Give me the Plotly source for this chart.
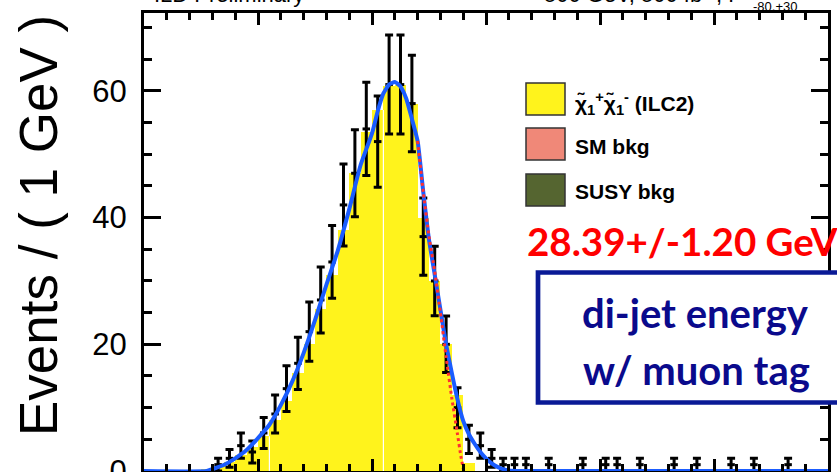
import plotly.graph_objects as go

# ---------------- data ----------------
bin_centers = [i + 0.5 for i in range(60)]          # GeV, 1 GeV bins

mc_signal = [0, 0, 0, 0, 0, 0.3, 0.8, 1.5, 2.5, 3.8,
             5.5, 8, 11, 15.5, 20, 25.5, 31, 38, 47, 53.5,
             57, 60.7, 61, 58, 40, 30, 20, 12, 1.3, 0,
             0, 0, 0, 0, 0, 0, 0, 0, 0, 0,
             0, 0, 0, 0, 0, 0, 0, 0, 0, 0,
             0, 0, 0, 0, 0, 0, 0, 0, 0, 0]
sm_bkg = [0] * 60
susy_bkg = [0] * 60

data_counts = [0, 0, 0, 0, 0, 0, 1, 2, 4, 3,
               6, 9, 13, 17, 22, 27, 33, 42, 47, 54,
               52, 61, 61, 58, 37, 30, 20, 10, 5, 4,
               2, 1, 1, 1, 0, 1, 0, 0, 1, 0,
               1, 1, 0, 1, 0, 0, 1, 0, 1, 0,
               0, 1, 0, 1, 0, 0, 1, 0, 0, 0]
data_err = [0, 0, 0, 0, 0, 0, 1, 1.41, 2, 1.73,
            2.45, 3, 3.61, 4.12, 4.69, 5.2, 5.74, 6.48, 6.86, 7.35,
            7.21, 7.81, 7.81, 7.62, 6.08, 5.48, 4.47, 3.16, 2.24, 2,
            1.41, 1, 1, 1, 0, 1, 0, 0, 1, 0,
            1, 1, 0, 1, 0, 0, 1, 0, 1, 0,
            0, 1, 0, 1, 0, 0, 1, 0, 0, 0]

fit_x = [0, 5.5, 6, 7, 8, 9, 10, 11, 12, 13, 14, 15, 16, 17, 18, 19, 20, 20.5,
         21, 21.5, 22, 22.5, 23, 23.5, 24, 24.5, 25, 25.5, 26, 26.5, 27, 27.5,
         28, 28.5, 29, 29.5, 30, 30.5, 31, 31.5, 32, 33, 60]
fit_y = [0, 0, 0.3, 0.95, 2.0, 3.3, 5.2, 7.3, 10.4, 14.1, 18.6, 23.8, 29.4, 34.8,
         41.3, 48.3, 53.3, 56.8, 59.6, 61.0, 61.4, 60.7, 58.8, 55.6, 52.1, 44.0,
         36.5, 31.0, 25.5, 20.0, 15.5, 11.3, 7.9, 5.8, 4.3, 3.0, 2.0, 1.2, 0.65,
         0.3, 0.1, 0, 0]

edge_x = [24, 24.5, 25, 25.5, 26, 26.5, 27, 27.5, 27.8, 28.05]
edge_y = [52.1, 44, 37, 31.5, 25, 18, 11.5, 5.8, 2.3, 0]

seam_edges = [11, 21]

x_range = [0, 60]
y_range = [0, 72.3]
y_ticks = [0, 20, 40, 60]

# ---------------- figure ----------------
W, H = 837, 472
ML, MR, MT, MB = 144, 9, 13, 1
PW, PH = W - ML - MR, H - MT - MB


def px(x):
    return (x - ML) / PW


def py(y):
    return (H - MB - y) / PH


fig = go.Figure()

fig.add_trace(go.Bar(x=bin_centers, y=mc_signal, width=1.0,
                     marker=dict(color="#FFF31C", line=dict(width=0))))
fig.add_trace(go.Bar(x=bin_centers, y=sm_bkg, width=1.0,
                     marker=dict(color="#F08878", line=dict(width=0))))
fig.add_trace(go.Bar(x=bin_centers, y=susy_bkg, width=1.0,
                     marker=dict(color="#556530", line=dict(width=0))))

# thin white seams inside the filled histogram
for e in seam_edges:
    top = min(mc_signal[e - 1], mc_signal[e])
    fig.add_trace(go.Scatter(x=[e, e], y=[0, top], mode="lines",
                             line=dict(color="white", width=1.2),
                             hoverinfo="skip"))

# pseudo-data points with error bars
dx = [c for c, v in zip(bin_centers, data_counts) if v > 0]
dy = [v for v in data_counts if v > 0]
de = [e for e, v in zip(data_err, data_counts) if v > 0]
fig.add_trace(go.Scatter(
    x=dx, y=dy, mode="markers",
    marker=dict(size=1, color="black"),
    error_y=dict(type="data", array=de, visible=True, color="black",
                 thickness=3, width=4),
    error_x=dict(type="constant", value=0.33, visible=True, color="black",
                 thickness=3, width=0),
))

fig.add_trace(go.Scatter(x=fit_x, y=fit_y, mode="lines",
                         line=dict(color="#1A5CFF", width=4, shape="spline",
                                   smoothing=0.5)))
fig.add_trace(go.Scatter(x=edge_x, y=edge_y, mode="lines",
                         line=dict(color="#FF3030", width=3, dash="dot",
                                   shape="spline", smoothing=0.5)))

# ---------------- decorations ----------------
shapes = []
annotations = []

# legend boxes
leg_items = [
    ("#FFF31C", 83, 115, 103,
     "χ̃<sub>1</sub><sup>+</sup>χ̃<sub>1</sub><sup>-</sup> (ILC2)"),
    ("#F08878", 128, 160, 146.5, "SM bkg"),
    ("#556530", 174, 206, 191.5, "SUSY bkg"),
]
for col, t, b, cy, label in leg_items:
    shapes.append(dict(type="rect", xref="paper", yref="paper",
                       x0=px(526), x1=px(565), y0=py(b), y1=py(t),
                       fillcolor=col, line=dict(color="#333333", width=1.5),
                       layer="above"))
    annotations.append(dict(x=px(573), y=py(cy), xref="paper", yref="paper",
                            xanchor="left", yanchor="middle", showarrow=False,
                            text="<b>" + label + "</b>",
                            font=dict(family="Liberation Sans", size=21,
                                      color="black")))

# fit result text
annotations.append(dict(x=px(525), y=py(241), xref="paper", yref="paper",
                        xanchor="left", yanchor="middle", showarrow=False,
                        text="<b>28.39+/-1.20 GeV</b>",
                        font=dict(family="Lato", size=38.5, color="#FF0000")))

# framed label
shapes.append(dict(type="rect", xref="paper", yref="paper",
                   x0=px(538), x1=px(860), y0=py(402.5), y1=py(272.5),
                   fillcolor="white", line=dict(color="#0A1A96", width=4.7),
                   layer="above"))
annotations.append(dict(x=px(695), y=py(313), xref="paper", yref="paper",
                        xanchor="center", yanchor="middle", showarrow=False,
                        text="<b>di-jet energy</b>",
                        font=dict(family="Lato", size=40, color="#0A0A8C")))
annotations.append(dict(x=px(696), y=py(370), xref="paper", yref="paper",
                        xanchor="center", yanchor="middle", showarrow=False,
                        text="<b>w/ muon tag</b>",
                        font=dict(family="Lato", size=40, color="#0A0A8C")))

# header texts (mostly cut by the top of the picture)
annotations.append(dict(x=px(152), y=py(9), xref="paper", yref="paper",
                        xanchor="left", yanchor="bottom", showarrow=False,
                        text="ILD Preliminary",
                        font=dict(family="Liberation Sans", size=22,
                                  color="black")))
annotations.append(dict(x=px(745), y=py(9), xref="paper", yref="paper",
                        xanchor="right", yanchor="bottom", showarrow=False,
                        text="500 GeV, 500 fb<sup>-1</sup>, P",
                        font=dict(family="Liberation Sans", size=22,
                                  color="black")))
annotations.append(dict(x=px(751), y=py(16), xref="paper", yref="paper",
                        xanchor="left", yanchor="bottom", showarrow=False,
                        text="-80,+30",
                        font=dict(family="Liberation Sans", size=13,
                                  color="black")))

# y-axis title
annotations.append(dict(x=px(38), y=py(226), xref="paper", yref="paper",
                        xanchor="center", yanchor="middle", showarrow=False,
                        textangle=-90, text="Events / ( 1 GeV )",
                        font=dict(family="Liberation Sans", size=53,
                                  color="black")))

fig.update_layout(
    width=W, height=H,
    margin=dict(l=ML, r=MR, t=MT, b=MB, pad=0, autoexpand=False),
    paper_bgcolor="white", plot_bgcolor="white",
    barmode="stack", bargap=0, showlegend=False,
    shapes=shapes, annotations=annotations,
    font=dict(family="Liberation Sans", color="black"),
)
fig.update_xaxes(
    automargin=False,
    range=x_range, showgrid=False, zeroline=False,
    showline=True, linecolor="black", linewidth=3, mirror="ticks",
    ticks="inside", ticklen=12, tickwidth=3, tickcolor="black",
    tick0=0, dtick=10, showticklabels=False,
    minor=dict(ticks="inside", dtick=2, ticklen=7, tickwidth=2.5,
               tickcolor="black"),
)
fig.update_yaxes(
    automargin=False,
    range=y_range, showgrid=False, zeroline=False,
    showline=True, linecolor="black", linewidth=3, mirror="ticks",
    ticks="inside", ticklen=17, tickwidth=3, tickcolor="black",
    tickvals=y_ticks, ticktext=[str(v) for v in y_ticks],
    tickfont=dict(family="Liberation Sans", size=31, color="black"),
    ticklabelstandoff=8, ticklabeloverflow="allow",
    minor=dict(ticks="inside", dtick=5, ticklen=8, tickwidth=2.5,
               tickcolor="black"),
)

fig.write_html("out.html")
